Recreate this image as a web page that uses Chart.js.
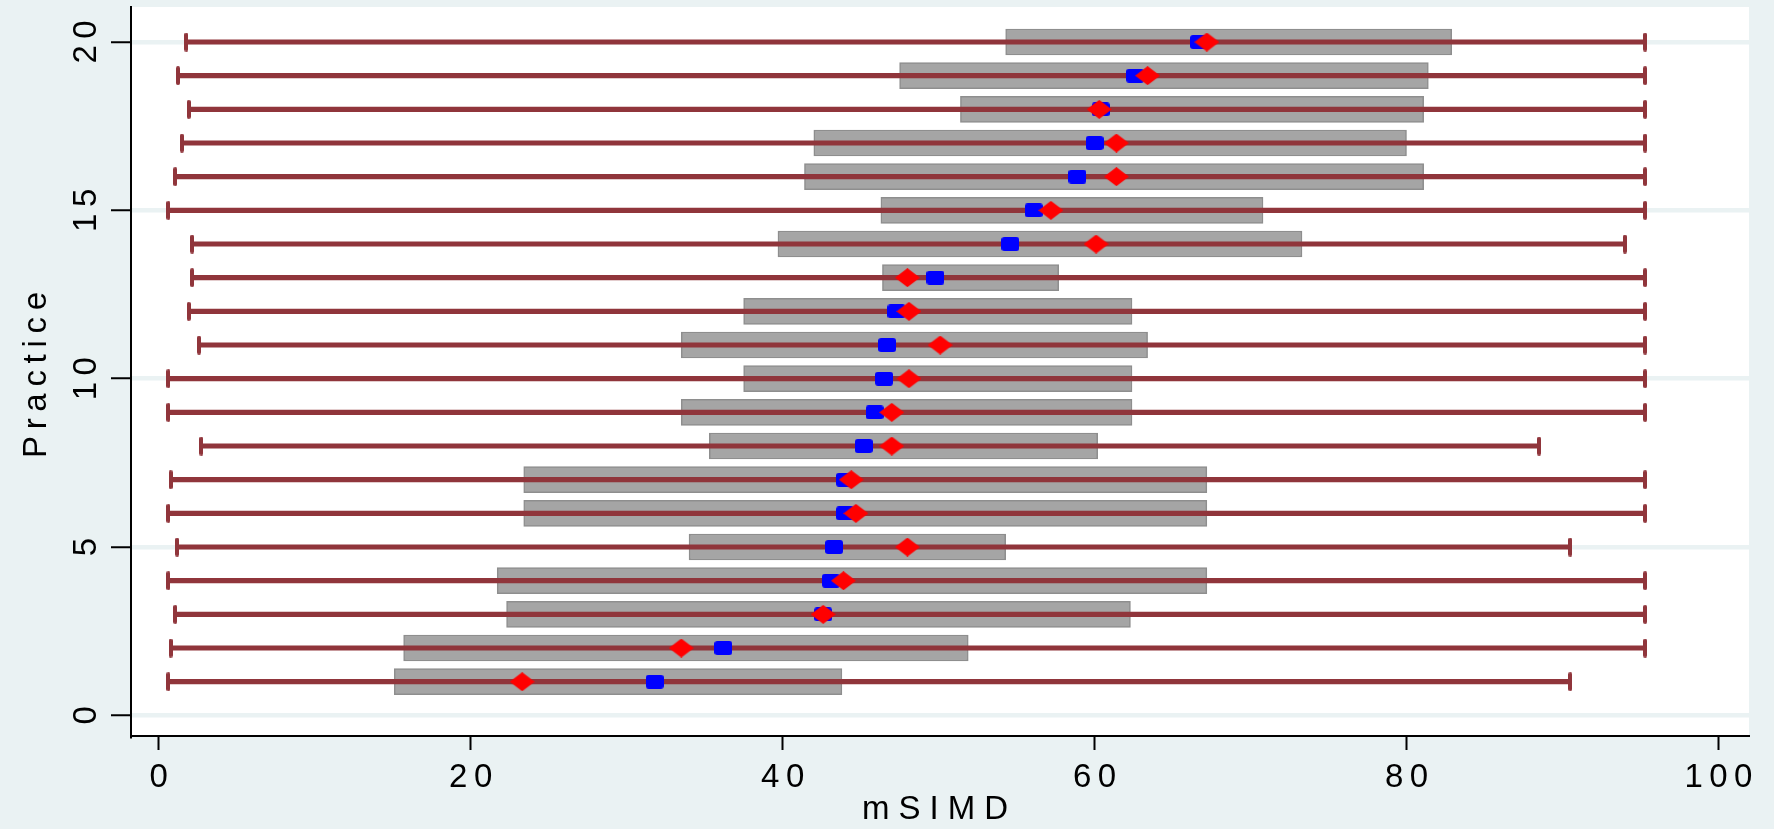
<!DOCTYPE html>
<html>
<head>
<meta charset="utf-8">
<title>mSIMD by practice</title>
<script src="https://cdn.jsdelivr.net/npm/chart.js@4/dist/chart.umd.min.js"></script>
<style>
  html, body { margin: 0; padding: 0; background: #EAF2F3; }
  #wrap { width: 1774px; height: 829px; }
</style>
</head>
<body>
<div id="wrap"><canvas id="chart" width="1774" height="829"></canvas></div>
<script>
const practice = [1, 2, 3, 4, 5, 6, 7, 8, 9, 10, 11, 12, 13, 14, 15, 16, 17, 18, 19, 20];
const rangeMin = [0.62, 0.76, 1.06, 0.62, 1.18, 0.62, 0.76, 2.73, 0.62, 0.62, 2.58, 1.92, 2.14, 2.14, 0.62, 1.06, 1.48, 1.92, 1.23, 1.77];
const rangeMax = [90.5, 95.3, 95.3, 95.3, 90.5, 95.3, 95.3, 88.5, 95.3, 95.3, 95.3, 95.3, 95.3, 94.0, 95.3, 95.3, 95.3, 95.3, 95.3, 95.3];
const boxLow = [15.1, 15.7, 22.3, 21.7, 34.0, 23.4, 23.4, 35.3, 33.5, 37.5, 33.5, 37.5, 46.4, 39.7, 46.3, 41.4, 42.0, 51.4, 47.5, 54.3];
const boxHigh = [43.8, 51.9, 62.3, 67.2, 54.3, 67.2, 67.2, 60.2, 62.4, 62.4, 63.4, 62.4, 57.7, 73.3, 70.8, 81.1, 80.0, 81.1, 81.4, 82.9];
const medianVals = [31.8, 36.2, 42.6, 43.1, 43.3, 44.0, 44.0, 45.2, 45.9, 46.5, 46.7, 47.3, 49.8, 54.6, 56.1, 58.9, 60.0, 60.4, 62.6, 66.7];
const meanVals = [23.3, 33.5, 42.6, 43.9, 48.0, 44.7, 44.4, 47.0, 47.0, 48.1, 50.1, 48.1, 48.0, 60.1, 57.2, 61.4, 61.4, 60.3, 63.4, 67.2];
const xTicks = [0, 20, 40, 60, 80, 100];
const yTicks = [0, 5, 10, 15, 20];
const xTitle = 'mSIMD';
const yTitle = 'Practice';

const FONT = '"Liberation Sans", Arial, Helvetica, sans-serif';
const BG = '#EAF2F3';
const MAROON = '#90353B';

// small marker images
function makeMarker(w, h, draw) {
  const c = document.createElement('canvas');
  c.width = w; c.height = h;
  draw(c.getContext('2d'), w, h);
  return c;
}
function roundRect(ctx, x, y, w, h, r) {
  ctx.beginPath();
  ctx.moveTo(x + r, y);
  ctx.lineTo(x + w - r, y);
  ctx.quadraticCurveTo(x + w, y, x + w, y + r);
  ctx.lineTo(x + w, y + h - r);
  ctx.quadraticCurveTo(x + w, y + h, x + w - r, y + h);
  ctx.lineTo(x + r, y + h);
  ctx.quadraticCurveTo(x, y + h, x, y + h - r);
  ctx.lineTo(x, y + r);
  ctx.quadraticCurveTo(x, y, x + r, y);
  ctx.closePath();
}
const squareImg = makeMarker(18, 14, (ctx, w, h) => {
  ctx.fillStyle = '#0000FF';
  roundRect(ctx, 0, 0, w, h, 3);
  ctx.fill();
});
const diamondImg = makeMarker(25, 19, (ctx, w, h) => {
  ctx.fillStyle = '#FF0000';
  ctx.beginPath();
  ctx.moveTo(w / 2, 0);
  ctx.lineTo(w, h / 2);
  ctx.lineTo(w / 2, h);
  ctx.lineTo(0, h / 2);
  ctx.closePath();
  ctx.fill();
});
const capImg = makeMarker(4, 19, (ctx, w, h) => {
  ctx.fillStyle = MAROON;
  roundRect(ctx, 0, 0, w, h, 2);
  ctx.fill();
});

function spacedText(ctx, text, x, y, gap) {
  const chars = [...text];
  const widths = chars.map(c => ctx.measureText(c).width);
  const total = widths.reduce((a, b) => a + b, 0) + gap * (chars.length - 1);
  let cx = x - total / 2;
  chars.forEach((c, i) => {
    ctx.fillText(c, cx, y);
    cx += widths[i] + gap;
  });
}

const backgroundPlugin = {
  id: 'plotBackground',
  beforeDraw(chart) {
    const { ctx, chartArea: a } = chart;
    ctx.save();
    ctx.fillStyle = BG;
    ctx.fillRect(0, 0, chart.width, chart.height);
    ctx.fillStyle = '#FFFFFF';
    ctx.fillRect(a.left, a.top, a.right - a.left, a.bottom - a.top);
    ctx.restore();
  }
};

const labelsPlugin = {
  id: 'stataLabels',
  afterDraw(chart) {
    const { ctx } = chart;
    const xs = chart.scales.x, ys = chart.scales.y;
    ctx.save();
    ctx.fillStyle = '#000';
    ctx.font = '33px ' + FONT;
    ctx.textAlign = 'left';
    ctx.textBaseline = 'alphabetic';
    xTicks.forEach(v => spacedText(ctx, String(v), xs.getPixelForValue(v), 787, 6.5));
    spacedText(ctx, xTitle, 935, 819, 9);
    yTicks.forEach(v => {
      ctx.save();
      ctx.translate(96, ys.getPixelForValue(v));
      ctx.rotate(-Math.PI / 2);
      spacedText(ctx, String(v), 0, 0, 6.5);
      ctx.restore();
    });
    ctx.save();
    ctx.translate(46, 375);
    ctx.rotate(-Math.PI / 2);
    spacedText(ctx, yTitle, 0, 0, 6.7);
    ctx.restore();
    ctx.restore();
  }
};

new Chart(document.getElementById('chart'), {
  type: 'bar',
  data: {
    datasets: [
      {
        type: 'scatter',
        label: 'mean',
        data: practice.map((p, i) => ({ x: meanVals[i], y: p })),
        pointStyle: diamondImg,
        pointRadius: 6,
        order: 0
      },
      {
        type: 'scatter',
        label: 'median',
        data: practice.map((p, i) => ({ x: medianVals[i], y: p })),
        pointStyle: squareImg,
        pointRadius: 6,
        order: 1
      },
      {
        type: 'scatter',
        label: 'min/max',
        data: practice.flatMap((p, i) => [{ x: rangeMin[i], y: p }, { x: rangeMax[i], y: p }]),
        pointStyle: capImg,
        pointRadius: 6,
        order: 2
      },
      {
        type: 'bar',
        label: 'range',
        indexAxis: 'y',
        grouped: false,
        data: practice.map((p, i) => ({ x: [rangeMin[i], rangeMax[i]], y: p })),
        backgroundColor: MAROON,
        borderWidth: 0,
        barThickness: 4.5,
        order: 3
      },
      {
        type: 'bar',
        label: 'box',
        indexAxis: 'y',
        grouped: false,
        data: practice.map((p, i) => ({ x: [boxLow[i], boxHigh[i]], y: p })),
        backgroundColor: '#A5A5A5',
        borderColor: '#8E8E8E',
        borderWidth: 1.5,
        borderSkipped: false,
        barThickness: 26,
        order: 4
      }
    ]
  },
  options: {
    responsive: false,
    animation: false,
    layout: { padding: { left: 0, top: 5, right: 25, bottom: 0 } },
    plugins: {
      legend: { display: false },
      tooltip: { enabled: false }
    },
    scales: {
      x: {
        type: 'linear',
        position: 'bottom',
        min: -1.78,
        max: 101.96,
        offset: false,
        afterBuildTicks: s => { s.ticks = xTicks.map(v => ({ value: v })); },
        afterFit: s => { s.height = 93; },
        ticks: { display: false },
        grid: {
          drawOnChartArea: false,
          drawTicks: true,
          tickLength: 14,
          tickWidth: 2,
          tickColor: '#000',
          offset: false
        },
        border: { display: true, color: '#000', width: 2 }
      },
      y: {
        type: 'linear',
        position: 'left',
        min: -0.613,
        max: 21.04,
        offset: false,
        afterBuildTicks: s => { s.ticks = yTicks.map(v => ({ value: v })); },
        afterFit: s => { s.width = 131; },
        ticks: { display: false },
        grid: {
          color: BG,
          lineWidth: 4.5,
          drawTicks: true,
          tickLength: 20,
          tickWidth: 2,
          tickColor: '#000',
          offset: false
        },
        border: { display: true, color: '#000', width: 2 }
      }
    }
  },
  plugins: [backgroundPlugin, labelsPlugin]
});
</script>
</body>
</html>
